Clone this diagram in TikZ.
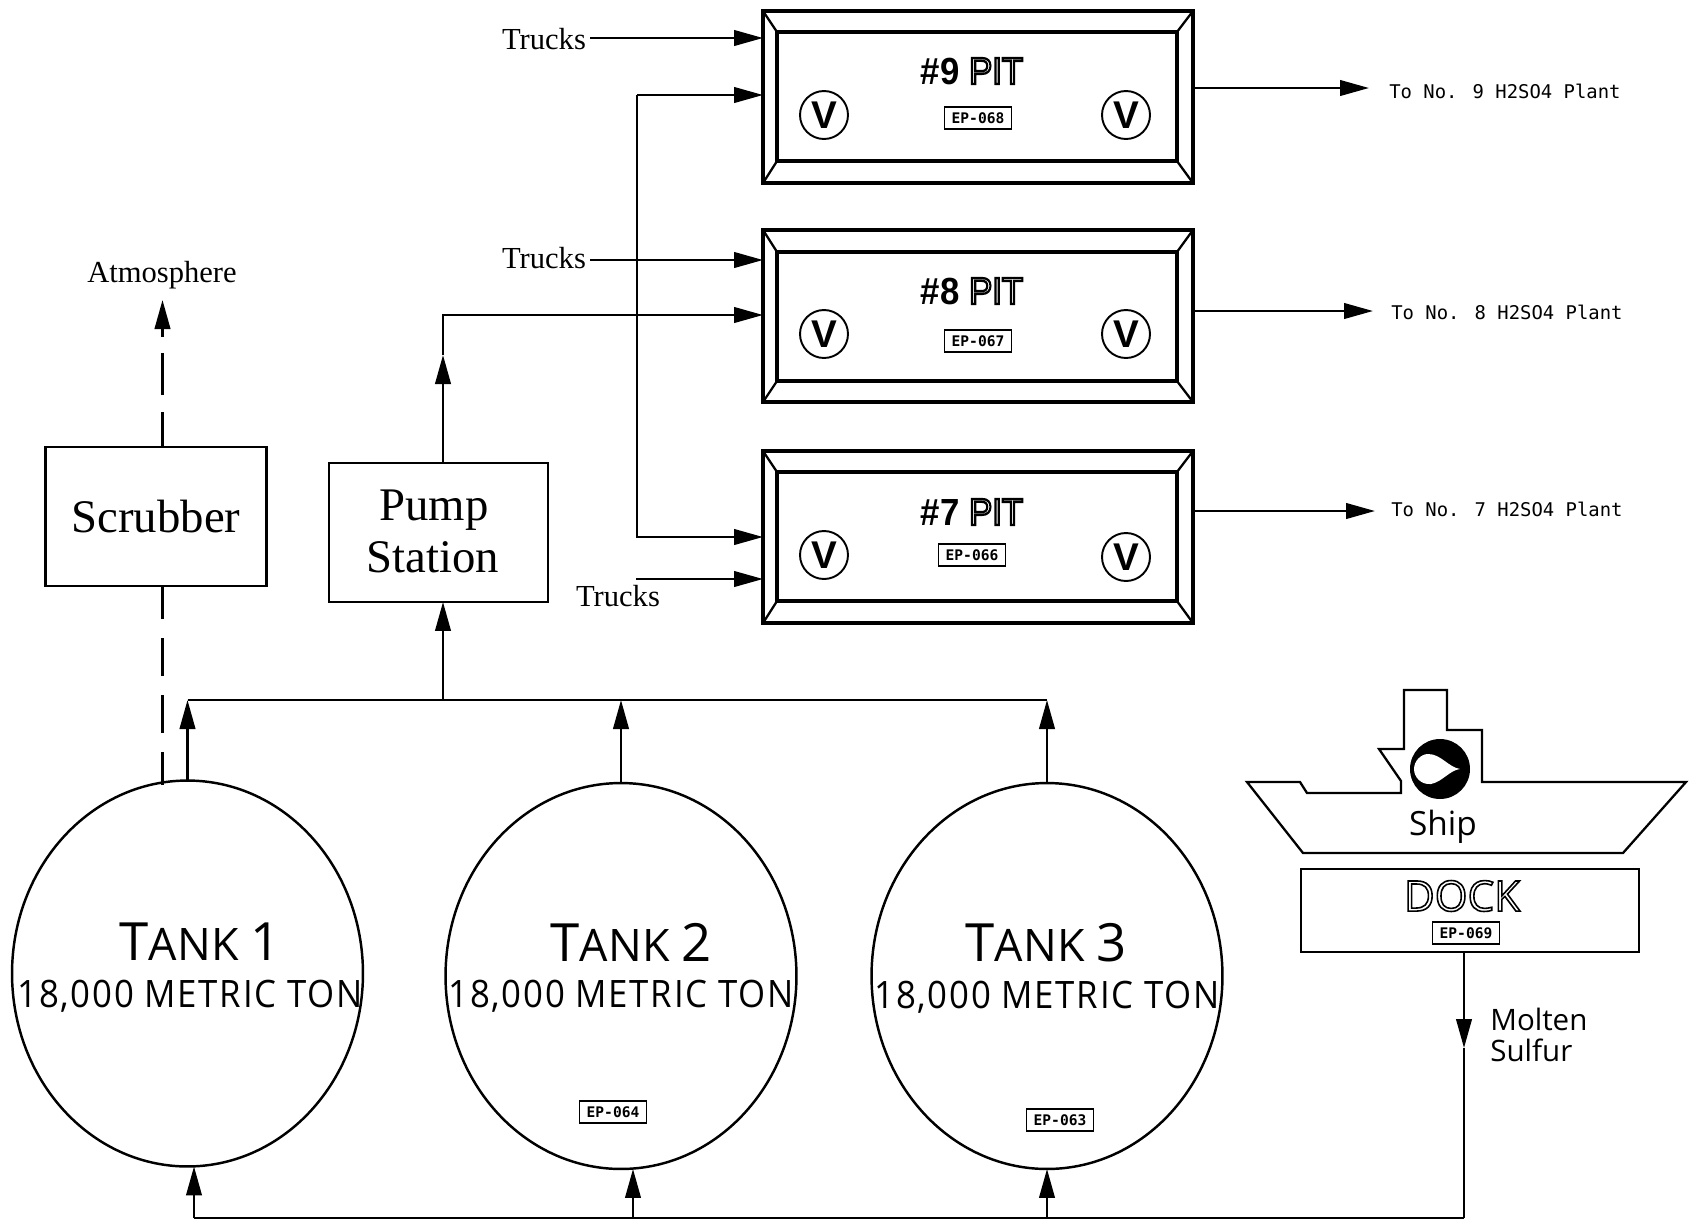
\documentclass[tikz,border=0pt]{standalone}
\usepackage{fontspec}
\usetikzlibrary{arrows.meta,shapes.geometric}
\setmainfont{Liberation Serif}
\newfontfamily\cadfont{Open Sans}
\newfontfamily\cadspaced[LetterSpace=5]{Open Sans}
\newfontfamily\monofont{DejaVu Sans Mono}
\newfontfamily\heavyfont{Liberation Sans}
\newcommand{\fs}[1]{\fontsize{#1}{#1}\selectfont}
\newcommand{\outl}[2]{\special{pdf:code 1 Tr #1 w}#2\special{pdf:code 0 Tr}}
\newcommand{\tanklabel}[1]{{\fs{30}T\fs{25.5}ANK\ \fs{30}#1}}
\newcommand{\pitlabel}[1]{{\bfseries\##1}\ \outl{1.3}{PIT}}
\tikzset{
  flowtip/.style={-{Triangle[length=0.58cm,width=0.31cm]}},
  conn/.style={line width=1.45pt,line join=miter},
  serif/.style={inner sep=0pt,font=\fs{17.4}},
  bigserif/.style={inner sep=0pt,font=\fs{26.6}},
  boxnode/.style={draw,line width=1.2pt,inner sep=0pt,outer sep=0pt},
  tank/.style={ellipse,draw,line width=1.4pt,inner sep=0pt,outer sep=0pt,minimum width=7.02cm,minimum height=7.72cm},
  tanktitle/.style={inner sep=0pt,font=\cadfont},
  tanksub/.style={inner sep=0pt,font=\cadspaced\fs{21.5},xscale=.92,transform shape},
  tag/.style={draw,line width=1.1pt,inner sep=0pt,minimum width=1.34cm,minimum height=0.44cm,font=\monofont\bfseries\fs{8.3}},
  pitouter/.style={draw,line width=2.6pt,inner sep=0pt,outer sep=0pt,minimum width=8.6cm,minimum height=3.44cm},
  pitinner/.style={draw,line width=2.2pt,inner sep=0pt,outer sep=0pt,minimum width=8cm,minimum height=2.58cm},
  bevel/.style={line width=1.3pt},
  pittitle/.style={inner sep=0pt,font=\heavyfont\fs{21.5},xscale=.92,transform shape},
  valve/.style={circle,draw,line width=1.1pt,inner sep=0pt,minimum size=0.96cm,font=\heavyfont\bfseries\fs{22}},
  dest/.style={inner sep=0pt,font=\monofont\fs{10.75}},
  cadtext/.style={inner sep=0pt,font=\cadfont\fs{16.8}},
}
\begin{document}
\begin{tikzpicture}[x=0.02cm,y=-0.02cm]
\useasboundingbox (0,0) rectangle (1691,1221);
% pits
\foreach \n/\cy/\iy/\lx/\ly/\tx/\ty/\tg/\vly/\vry/\pn in {
  9/97/96.5/972/71/978/118/EP-068/115/115/9,
  8/316/316.5/972/291/978/341/EP-067/334/334/8,
  7/537/536.5/972/512/972/555/EP-066/555/557/7}{
  \node[pitouter] (pit\n o) at (978,\cy) {};
  \node[pitinner] (pit\n i) at (977,\iy) {};
  \draw[bevel] (pit\n o.north west) -- (pit\n i.north west);
  \draw[bevel] (pit\n o.north east) -- (pit\n i.north east);
  \draw[bevel] (pit\n o.south west) -- (pit\n i.south west);
  \draw[bevel] (pit\n o.south east) -- (pit\n i.south east);
  \node[pittitle] (pit\n t) at (\lx,\ly) {\pitlabel{\pn}};
  \node[tag] (pit\n tag) at (\tx,\ty) {\tg};
  \node[valve] (pit\n vl) at (824,\vly) {V};
  \node[valve] (pit\n vr) at (1126,\vry) {V};
}
% destinations
\node[dest,anchor=west] (d9) at (1389,91) {To No. 9 H2SO4 Plant};
\node[dest,anchor=west] (d8) at (1391,312) {To No. 8 H2SO4 Plant};
\node[dest,anchor=west] (d7) at (1391,509) {To No. 7 H2SO4 Plant};
\coordinate (o9) at (1369,88);
\coordinate (o8) at (1373,311);
\coordinate (o7) at (1375,511);
\draw[conn,flowtip] (pit9o.east |- o9) -- (o9);
\draw[conn,flowtip] (pit8o.east |- o8) -- (o8);
\draw[conn,flowtip] (pit7o.east |- o7) -- (o7);
% trucks
\node[serif] (tr1) at (544,39) {Trucks};
\node[serif] (tr2) at (544,258) {Trucks};
\node[serif] (tr3) at (618,596) {Trucks};
\coordinate (tr1s) at (590,38);
\coordinate (tr2s) at (590,260);
\coordinate (tr3s) at (636,579);
\draw[conn,flowtip] (tr1s) -- (tr1s -| pit9o.west);
\draw[conn,flowtip] (tr2s) -- (tr2s -| pit8o.west);
\draw[conn,flowtip] (tr3s) -- (tr3s -| pit7o.west);
% pit feed
\coordinate (f9) at (637,95);
\coordinate (f7) at (637,537);
\draw[conn,flowtip] (f9) -- (f9 -| pit9o.west);
\draw[conn,flowtip] (f9) -- (f7) -- (f7 -| pit7o.west);
% scrubber and pump
\node[boxnode,minimum width=4.42cm,minimum height=2.78cm,bigserif,draw] (scrubber) at (156,516.5) {Scrubber};
\node[boxnode,minimum width=4.38cm,minimum height=2.78cm,draw] (pump) at (438.5,532.5) {};
\node[bigserif] (pumpa) at (434,510) {Pump};
\node[bigserif] (pumpb) at (433,557) {Station};
\node[serif] (atm) at (162,275) {Atmosphere};
\coordinate (pumpx) at (443,355);
\coordinate (pumpc) at (443,315);
\draw[conn,flowtip] (pumpx |- pump.north) -- (pumpx);
\draw[conn,flowtip] (pumpx) -- (pumpc) -- (pumpc -| pit8o.west);
\coordinate (atmtip) at (162.5,300);
\coordinate (atmstem) at (162.5,337);
\draw[conn,dash pattern=on 0.84cm off 0.34cm,dash phase=0.14cm] (atmtip |- scrubber.north) -- (162.5,342);
\draw[conn,flowtip] (atmstem) -- (atmtip);
% tanks
\node[tank] (tank1) at (187.5,973.5) {};
\node[tank] (tank2) at (621,976) {};
\node[tank] (tank3) at (1047,976) {};
\node[tanktitle] (t1a) at (200,942) {\tanklabel{1}};
\node[tanktitle] (t2a) at (631,942) {\tanklabel{2}};
\node[tanktitle] (t3a) at (1046,943) {\tanklabel{3}};
\node[tanksub] (t1b) at (190,996) {18,000 METRIC TON};
\node[tanksub] (t2b) at (621,996) {18,000 METRIC TON};
\node[tanksub] (t3b) at (1047,997) {18,000 METRIC TON};
\node[tag] (tag2) at (613,1112) {EP-064};
\node[tag] (tag3) at (1060,1120) {EP-063};
% vent
\coordinate (ventlow) at (162.5,785);
\draw[conn,dash pattern=on 0.76cm off 0.38cm,dash phase=0.1cm] (ventlow) -- (ventlow |- scrubber.south);
% collector
\coordinate (coll) at (443,700);
\draw[conn,flowtip] (tank1.north) -- (tank1.north |- coll);
\draw[conn,flowtip] (tank2.north) -- (tank2.north |- coll);
\draw[conn,flowtip] (tank3.north) -- (tank3.north |- coll);
\draw[conn] (tank1.north |- coll) -- (tank3.north |- coll);
\draw[conn,flowtip] (coll) -- (coll |- pump.south);
% ship
\draw[line width=1.3pt,line join=miter] (1247,782) -- (1300,782) -- (1307,793) -- (1401,793) -- (1401,781) -- (1379,749) -- (1404,749) -- (1404,690) -- (1447,690) -- (1447,730) -- (1482,730) -- (1482,782) -- (1686,782) -- (1623,853) -- (1303,853) -- cycle;
\fill (1440,769) circle[radius=0.6cm];
\fill[white] (1460,769) .. controls (1450,770) and (1442,782) .. (1431,784) .. controls (1421,785) and (1414,777) .. (1414,769) .. controls (1414,761) and (1421,754) .. (1428,754) .. controls (1441,754) and (1448,767) .. (1460,769) -- cycle;
\node[inner sep=0pt,font=\cadfont\fs{19}] (shiplabel) at (1443,827) {Ship};
% dock
\node[boxnode,minimum width=6.76cm,minimum height=1.66cm] (dock) at (1470,910.5) {};
\node[inner sep=0pt,font=\cadfont\fs{24}] (docklabel) at (1462,896) {\outl{0.9}{DOCK}};
\node[tag] (tag4) at (1466,933) {EP-069};
% sulfur line
\coordinate (sul) at (1464,1048);
\coordinate (bus) at (1464,1218);
\draw[conn,flowtip] (sul |- dock.south) -- (sul);
\draw[conn] (sul) -- (bus);
\coordinate (b1) at (194,1218);
\coordinate (b2) at (633,1218);
\coordinate (b3) at (1047,1218);
\draw[conn] (bus) -- (b1);
\draw[conn,flowtip] (b1) -- (b1 |- tank1.south);
\draw[conn,flowtip] (b2) -- (b2 |- tank2.south);
\draw[conn,flowtip] (b3) -- (b3 |- tank3.south);
\node[cadtext,anchor=west] (molten) at (1490,1019) {Molten};
\node[cadtext,anchor=west] (sulfur) at (1490,1050) {Sulfur};
\end{tikzpicture}
\end{document}
